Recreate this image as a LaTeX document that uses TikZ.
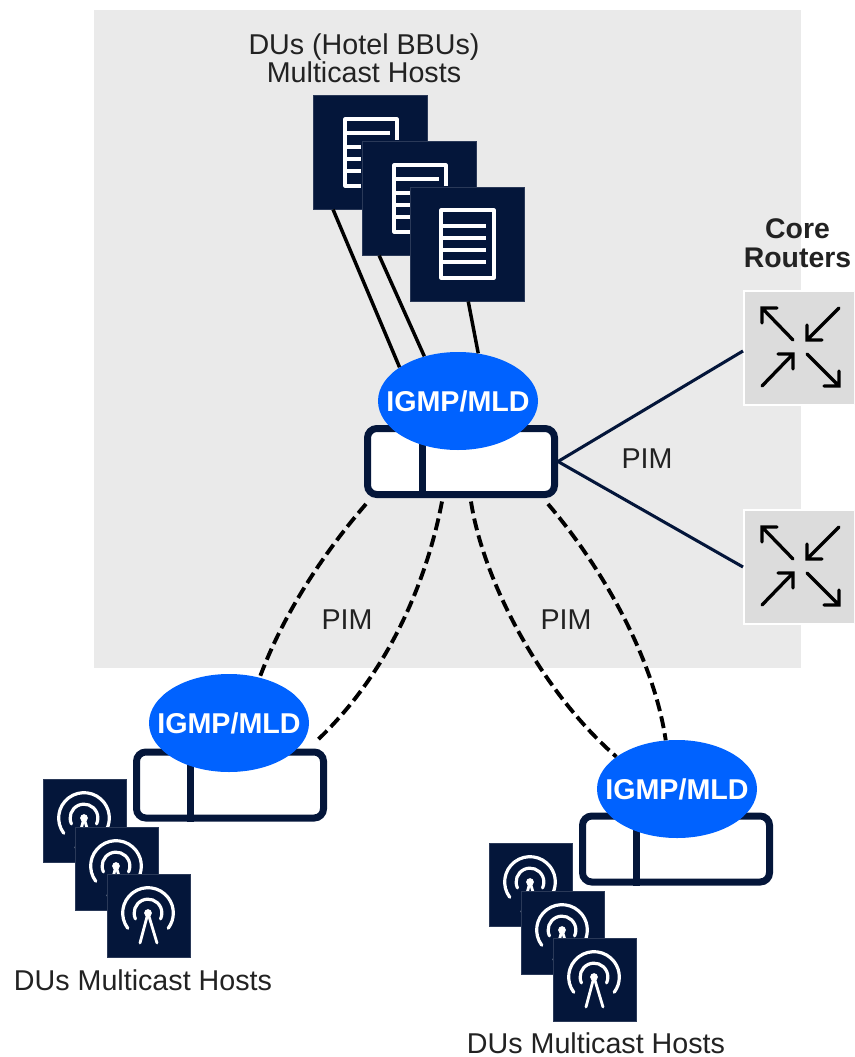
\documentclass[tikz,border=0pt]{standalone}
\usepackage{fontspec}
\setmainfont{Liberation Sans}
\usetikzlibrary{shapes.geometric,calc}
\definecolor{navy}{HTML}{04163A}
\definecolor{panel}{HTML}{EAEAEA}
\definecolor{blue1}{HTML}{0062FF}
\definecolor{routerbg}{HTML}{DCDCDC}
\definecolor{txt}{HTML}{222222}
\tikzset{
  hostbox/.style={draw=navy!85!white,line width=.4pt,fill=navy,minimum width=#1*.75pt,minimum height=#1*.75pt,inner sep=0pt,anchor=north west},
  glyph/.style={draw=white,line width=2.3pt,line join=round},
  routerbox/.style={draw=white,line width=1.5pt,fill=routerbg,minimum width=111*.75pt,minimum height=114*.75pt,inner sep=0pt,anchor=north west},
  rarrow/.style={draw=black,line width=2.5pt,line cap=round,line join=miter},
  switchbox/.style={draw=navy,line width=5.25pt,fill=white,rounded corners=7pt,minimum width=187*.75pt,minimum height=66*.75pt,inner sep=0pt},
  proto/.style={ellipse,fill=blue1,text=white,font=\bfseries\fontsize{21.5pt}{24pt}\selectfont,minimum width=160*.75pt,minimum height=98*.75pt,inner sep=0pt},
  txtlabel/.style={text=txt,font=\fontsize{21.5pt}{21pt}\selectfont,align=center,inner sep=0pt},
  solidlink/.style={draw=black,line width=2.6pt},
  corelink/.style={draw=navy,line width=2.3pt},
  dashlink/.style={draw=black,line width=2.9pt,dash pattern=on 9pt off 4pt}
}
\newcommand{\hostdoc}[4]{% name x y glyph
  \node[hostbox=114] (#1) at (#2,#3) {};
  \begin{scope}[shift={(#2,#3)}]
  #4
  \end{scope}}
\newcommand{\hostant}[3]{%
  \node[hostbox=82.5] (#1) at (#2,#3) {};
  \begin{scope}[shift={(#2,#3)}]
    \draw[glyph,line width=2.4pt,line cap=round] (41,39) ++(217:19pt) arc[start angle=217,end angle=-37,radius=19pt];
    \draw[glyph,line width=2.4pt,line cap=round] (41,39) ++(205:10.4pt) arc[start angle=205,end angle=-25,radius=10.4pt];
    \fill[white] (41,39) circle[radius=2.9pt];
    \draw[glyph,line width=2.1pt,line cap=round] (33,69) -- (41,39) -- (50,69);
  \end{scope}}
\newcommand{\swbox}[4]{% name cx cy divider-offset
  \node[switchbox] (#1) at (#2,#3) {};
  \draw[navy,line width=5.25pt] ($(#1.north west)+(#4,0)$) -- ($(#1.south west)+(#4,0)$);}
\newcommand{\rtbox}[3]{%
  \node[routerbox] (#1) at (#2,#3) {};
  \begin{scope}[shift={(#2,#3)}]
    \draw[rarrow] (50,50) -- (19,18) (34,18) -- (19,18) -- (19,33);
    \draw[rarrow] (96,18) -- (64,50) (64,35) -- (64,50) -- (79,50);
    \draw[rarrow] (19,96) -- (50,64) (35,64) -- (50,64) -- (50,79);
    \draw[rarrow] (64,64) -- (96,96) (81,96) -- (96,96) -- (96,81);
  \end{scope}}
\begin{document}
\begin{tikzpicture}[x=.75pt,y=-.75pt]
\useasboundingbox (0,0) rectangle (854,1057);
\clip (0,0) rectangle (854,1057);
\fill[panel] (94,10) rectangle (801,668);
% labels
\node[txtlabel] (t1) at (364,58) {DUs (Hotel BBUs)\\Multicast Hosts};
\node[txtlabel,font=\bfseries\fontsize{21.3pt}{22pt}\selectfont] (t2) at (797.5,243) {Core\\Routers};
\node[txtlabel] (p1) at (647,459) {PIM};
\node[txtlabel] (p2) at (347,620) {PIM};
\node[txtlabel] (p3) at (566,620) {PIM};
\node[txtlabel] (t3) at (143,980) {DUs Multicast Hosts};
\node[txtlabel] (t4) at (596,1043) {DUs Multicast Hosts};
% server hosts
\def\docopen{%
  \draw[glyph,line cap=butt] (84,45) -- (84,24) -- (32,24) -- (32,91) -- (48,91);
  \draw[glyph] (32,38) -- (77,38) (32,52) -- (48,52) (32,64) -- (48,64) (32,76) -- (48,76);}
\hostdoc{h1}{313}{95}{\docopen}
\hostdoc{h2}{362}{141}{\docopen}
\hostdoc{h3}{410}{187}{%
  \draw[glyph] (31,23) rectangle (84,91);
  \draw[glyph] (31,39) -- (76,39) (31,51) -- (76,51) (31,63) -- (76,63) (31,75) -- (76,75);}
% routers
\rtbox{r1}{743}{290}
\rtbox{r2}{743}{509}
% switches
\swbox{s1}{461}{461.5}{58.5}
\swbox{s2}{230}{785}{57}
\swbox{s3}{676}{849}{57}
\node[proto] (e1) at (458,401) {\makebox[0pt]{IGMP/MLD}};
\node[proto] (e2) at (229,723) {\makebox[0pt]{IGMP/MLD}};
\node[proto] (e3) at (677,789) {\makebox[0pt]{IGMP/MLD}};
% antenna hosts
\hostant{a1}{43}{779}
\hostant{a2}{75}{827}
\hostant{a3}{107}{874}
\hostant{b1}{489}{843}
\hostant{b2}{521}{891}
\hostant{b3}{553}{938}
% connectors
\draw[solidlink] (h1.237.6) -- (e1.150.4);
\draw[solidlink] (h2.235.6) -- (e1.127);
\draw[solidlink] (h3.271.5) -- (e1.67);
\draw[corelink] (s1.east) -- (r1.183);
\draw[corelink] (s1.east) -- (r2.west);
\draw[dashlink] ($(s1.south west)+(2,6)$) .. controls (322,555) and (283,615) .. (e2.56);
\draw[dashlink] ($(s1.south)+(-19,3.5)$) .. controls (428,575) and (392,670) .. ($(s2.north east)+(-11,-7)$);
\draw[dashlink] ($(s1.south)+(10,3.5)$) .. controls (483,580) and (540,690) .. (e3.152.7);
\draw[dashlink] ($(s1.south east)+(-10,6)$) .. controls (600,565) and (653,655) .. (e3.103);
\end{tikzpicture}
\end{document}
